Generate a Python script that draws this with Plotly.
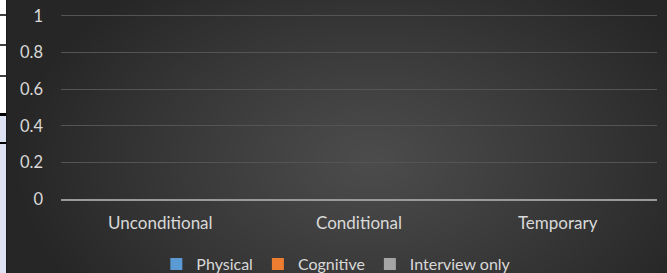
import base64, struct, zlib
import numpy as np
import plotly.graph_objects as go

# ---- data ----
categories = ["Unconditional", "Conditional", "Temporary"]
physical = [0, 0, 0]
cognitive = [0, 0, 0]
interview_only = [0, 0, 0]
y_ticks = [0, 0.2, 0.4, 0.6, 0.8, 1]
y_tick_labels = ["0", "0.2", "0.4", "0.6", "0.8", "1"]

W, H = 667, 273
L, R, T, B = 61, 10, 14, 74
PW, PH = W - L - R, H - T - B

# ---- radial gradient background as a PNG ----
def make_png(w, h):
    yy, xx = np.mgrid[0:h, 0:w].astype(float)
    cx, cy = 363.0, 160.0
    d = np.sqrt(((xx - cx) / 360.0) ** 2 + ((yy - cy) / 230.0) ** 2)
    d = np.clip(d, 0, 1)
    v = 76 - (76 - 38) * d ** 1.1
    img = np.clip(v, 0, 255).astype(np.uint8)
    raw = b"".join(b"\x00" + img[r].tobytes() for r in range(h))
    def chunk(t, data):
        c = struct.pack(">I", len(data)) + t + data
        return c + struct.pack(">I", zlib.crc32(t + data) & 0xFFFFFFFF)
    png = b"\x89PNG\r\n\x1a\n"
    png += chunk(b"IHDR", struct.pack(">IIBBBBB", w, h, 8, 0, 0, 0, 0))
    png += chunk(b"IDAT", zlib.compress(raw, 9))
    png += chunk(b"IEND", b"")
    return "data:image/png;base64," + base64.b64encode(png).decode()

bg = make_png(W - 7, H)

def px_x(p):
    return (p - L) / PW

def px_y(p):
    return 1 - (p - T) / PH

fig = go.Figure()
for name, vals, col in [("Physical", physical, "#5b9bd5"),
                        ("Cognitive", cognitive, "#ed7d31"),
                        ("Interview only", interview_only, "#a5a5a5")]:
    fig.add_trace(go.Bar(x=categories, y=vals, name=name, marker_color=col,
                         marker_line_width=0))

shapes = []
# left strip (document artifact)
shapes.append(dict(type="rect", xref="paper", yref="paper", x0=px_x(0), x1=px_x(6),
                   y0=px_y(0), y1=px_y(115), fillcolor="#ffffff", line_width=0, layer="above"))
shapes.append(dict(type="rect", xref="paper", yref="paper", x0=px_x(0), x1=px_x(6),
                   y0=px_y(115), y1=px_y(273), fillcolor="#dde3f3", line_width=0, layer="above"))
for yv, th in [(15, 1.5), (45, 1.5), (76, 1.5), (114.5, 3), (143, 2)]:
    shapes.append(dict(type="line", xref="paper", yref="paper", x0=px_x(0), x1=px_x(6),
                       y0=px_y(yv), y1=px_y(yv), line=dict(color="#000000", width=th), layer="above"))
shapes.append(dict(type="line", xref="paper", yref="paper", x0=px_x(6.5), x1=px_x(6.5),
                   y0=px_y(0), y1=px_y(273), line=dict(color="#1a1a1a", width=1), layer="above"))

fig.update_layout(
    width=W, height=H,
    margin=dict(l=L, r=R, t=T, b=B, pad=0, autoexpand=False),
    paper_bgcolor="#2e2e2e",
    plot_bgcolor="rgba(0,0,0,0)",
    font=dict(family="Lato, 'Open Sans', sans-serif", size=16, color="#d9d9d9"),
    barmode="group",
    showlegend=True,
    legend=dict(orientation="h", x=0.462, xanchor="center", y=-0.26, yanchor="top",
                font=dict(size=16, color="#d9d9d9"), bgcolor="rgba(0,0,0,0)",
                itemwidth=30, tracegroupgap=0),
    xaxis=dict(showgrid=False, zeroline=False, showline=True, linecolor="#9a9a9a", linewidth=2,
               ticks="", ticklabelstandoff=8, tickfont=dict(size=17, color="#d9d9d9"), fixedrange=True),
    yaxis=dict(range=[0, 1.01], tickvals=y_ticks, ticktext=y_tick_labels, showgrid=True,
               gridcolor="#545454", gridwidth=1, zeroline=False, showline=False,
               ticks="", ticklabelstandoff=17, tickfont=dict(size=16.5, color="#d9d9d9"), fixedrange=True),
    images=[dict(source=bg, xref="paper", yref="paper", x=px_x(7), y=px_y(0),
                 sizex=(W - 7) / PW, sizey=H / PH, xanchor="left", yanchor="top",
                 sizing="stretch", layer="below")],
    shapes=shapes,
)

fig.write_html("out.html", config={"displayModeBar": False},
               post_script="document.body.style.margin='0';document.body.style.padding='0';")
